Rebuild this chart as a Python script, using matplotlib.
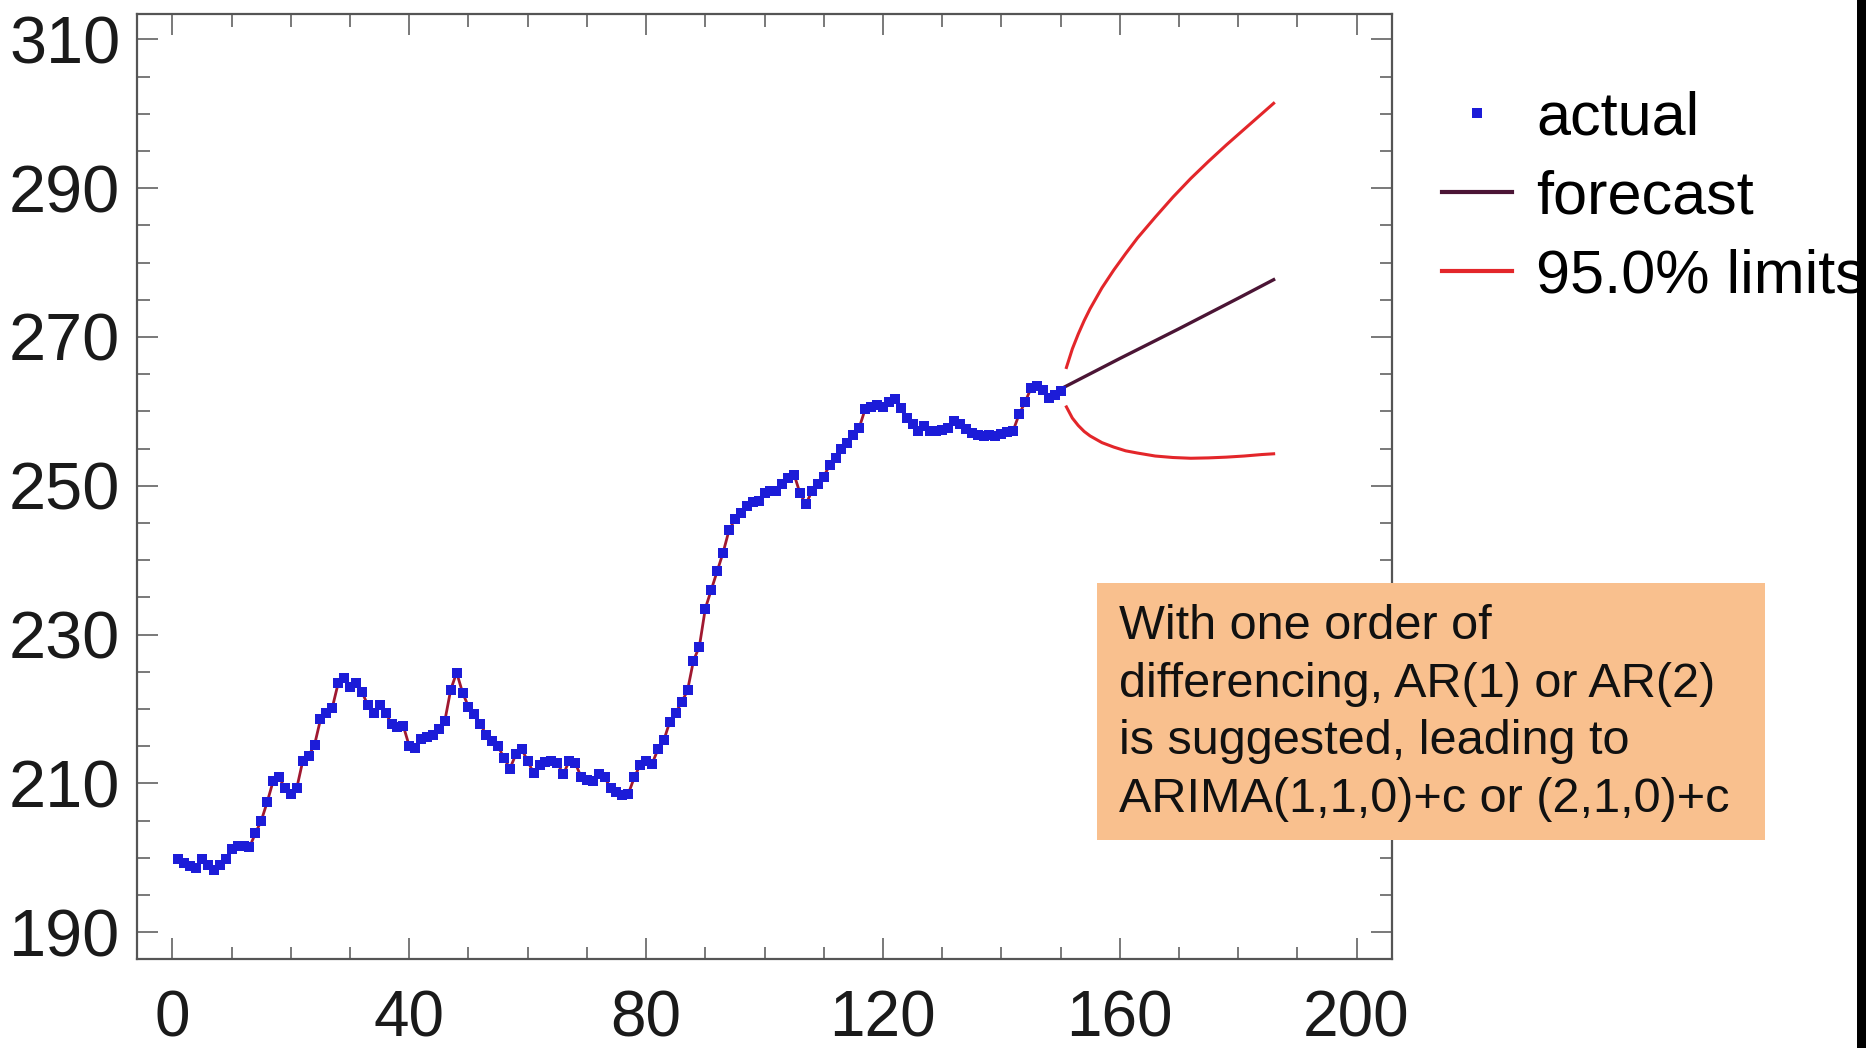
"""ARIMA forecast chart: actual series, point forecast and 95% limits."""

import matplotlib

matplotlib.use("Agg")
import matplotlib.pyplot as plt
from matplotlib.patches import Rectangle
from matplotlib.ticker import MultipleLocator

plt.rcParams["font.family"] = ["Liberation Sans", "DejaVu Sans"]

# observed series, t = 1..150
actual_t = list(range(1, 151))
actual_values = [
    199.8, 199.3, 198.9, 198.6, 199.8, 199.0, 198.3, 199.0, 199.8, 201.2,
    201.6, 201.6, 201.4, 203.3, 205.0, 207.5, 210.3, 210.8, 209.4, 208.6,
    209.4, 213.0, 213.7, 215.2, 218.6, 219.5, 220.2, 223.5, 224.2, 222.9,
    223.5, 222.3, 220.5, 219.5, 220.6, 219.5, 218.0, 217.6, 217.7, 215.0,
    214.8, 216.0, 216.2, 216.5, 217.3, 218.4, 222.6, 224.9, 222.2, 220.3,
    219.3, 218.0, 216.5, 215.7, 215.0, 213.4, 212.0, 213.9, 214.6, 213.0,
    211.4, 212.5, 212.9, 213.0, 212.8, 211.2, 213.0, 212.8, 210.9, 210.5,
    210.3, 211.2, 210.8, 209.4, 208.8, 208.5, 208.6, 210.8, 212.5, 213.0,
    212.6, 214.6, 215.8, 218.3, 219.5, 220.9, 222.5, 226.5, 228.4, 233.5,
    236.0, 238.5, 241.0, 244.0, 245.5, 246.3, 247.3, 247.8, 248.0, 249.0,
    249.3, 249.3, 250.2, 251.0, 251.5, 249.0, 247.5, 249.3, 250.2, 251.2,
    252.8, 253.8, 255.0, 255.8, 256.8, 257.8, 260.3, 260.6, 260.8, 260.6,
    261.2, 261.6, 260.4, 259.1, 258.3, 257.4, 258.0, 257.4, 257.3, 257.5,
    257.8, 258.7, 258.3, 257.6, 257.1, 256.8, 256.7, 256.8, 256.7, 256.9,
    257.2, 257.4, 259.6, 261.2, 263.1, 263.4, 262.9, 261.8, 262.2, 262.7,
]

# point forecast
forecast_t = [150, 160, 170, 180, 186]
forecast_values = [263.0, 267.1, 271.1, 275.2, 277.7]

# 95% limits
limit_t = [151, 152, 153, 154, 155, 157, 159, 161, 163, 166, 169, 172, 175,
           178, 181, 184, 186]
upper_values = [265.9, 268.4, 270.4, 272.2, 273.8, 276.6, 279.0, 281.2, 283.3,
                286.1, 288.8, 291.3, 293.6, 295.8, 297.9, 300.0, 301.4]
lower_values = [260.6, 259.1, 258.1, 257.3, 256.7, 255.8, 255.2, 254.7, 254.4,
                254.0, 253.8, 253.7, 253.75, 253.85, 254.0, 254.2, 254.3]

note_text = ("With one order of\ndifferencing, AR(1) or AR(2)\n"
             "is suggested, leading to\nARIMA(1,1,0)+c or (2,1,0)+c")

ACTUAL_COLOR = "#1c1cd8"
FIT_COLOR = "#a01830"
FORECAST_COLOR = "#4b1535"
LIMIT_COLOR = "#e3262a"
FRAME_COLOR = "#555555"

fig = plt.figure(figsize=(18.66, 10.48), dpi=100)
ax = fig.add_axes([0.0734, 0.0849, 0.6726, 0.9017])

ax.plot(actual_t, actual_values, color=FIT_COLOR, linewidth=2.0, zorder=2)
ax.plot(actual_t, actual_values, linestyle="none", marker="s", markersize=7.5,
        markeredgewidth=0, color=ACTUAL_COLOR, label="actual", zorder=3)
ax.plot(forecast_t, forecast_values, color=FORECAST_COLOR, linewidth=2.4,
        label="forecast", zorder=2)
ax.plot(limit_t, upper_values, color=LIMIT_COLOR, linewidth=2.2,
        label="95.0% limits", zorder=2)
ax.plot(limit_t, lower_values, color=LIMIT_COLOR, linewidth=2.2, zorder=2)

ax.set_xlim(-6, 206)
ax.set_ylim(186.4, 313.4)
ax.xaxis.set_major_locator(MultipleLocator(40))
ax.xaxis.set_minor_locator(MultipleLocator(10))
ax.yaxis.set_minor_locator(MultipleLocator(5))
ax.set_yticks(range(190, 311, 20))
ax.tick_params(which="both", direction="in", top=True, right=True,
               colors=FRAME_COLOR, labelcolor="#1a1a1a", width=1.1)
ax.tick_params(which="major", length=15)
ax.tick_params(which="minor", length=9)
ax.tick_params(axis="x", labelsize=46, pad=22)
ax.tick_params(axis="y", labelsize=48, pad=12)
for spine in ax.spines.values():
    spine.set_color(FRAME_COLOR)
    spine.set_linewidth(1.6)

legend = ax.legend(loc="upper left", bbox_to_anchor=(1.02, 0.945), frameon=False,
                   fontsize=44, handlelength=1.15, handletextpad=0.4,
                   labelspacing=0.36, borderaxespad=0, markerscale=0.9)
for handle in legend.legend_handles:
    handle.set_linewidth(3)

# orange note box over the right spine
fig.patches.append(Rectangle((1097 / 1866, 1 - 840 / 1048), 668 / 1866, 257 / 1048,
                             transform=fig.transFigure, facecolor="#f9c08e",
                             edgecolor="none", zorder=5))
fig.text(1119 / 1866, 1 - 713 / 1048, note_text, fontsize=35, color="#111111",
         va="center", ha="left", linespacing=1.37, zorder=6)

# dark strip at the right edge of the frame grab
fig.patches.append(Rectangle((1857 / 1866, 0), 9 / 1866, 1,
                             transform=fig.transFigure, facecolor="black",
                             edgecolor="none", zorder=10))

fig.savefig("out.png", dpi=100)
plt.close(fig)
